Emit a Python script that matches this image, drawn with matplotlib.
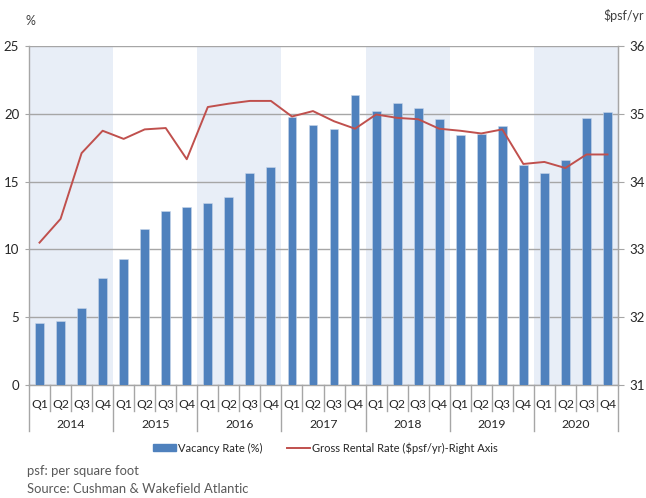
import matplotlib
matplotlib.use("Agg")
import matplotlib.pyplot as plt
import matplotlib.transforms as mtransforms
from matplotlib.patches import Patch
from matplotlib.lines import Line2D

plt.rcParams['font.family'] = ['Lato', 'DejaVu Sans']

years = ["2014", "2015", "2016", "2017", "2018", "2019", "2020"]
quarters = ["Q1", "Q2", "Q3", "Q4"]
vacancy = [4.6, 4.7, 5.7, 7.9,
           9.3, 11.5, 12.8, 13.1,
           13.4, 13.9, 15.6, 16.1,
           19.8, 19.2, 18.9, 21.4,
           20.2, 20.8, 20.4, 19.6,
           18.4, 18.5, 19.1, 16.2,
           15.6, 16.6, 19.7, 20.1]
rent = [33.10, 33.45, 34.42, 34.75,
        34.63, 34.77, 34.79, 34.33,
        35.10, 35.15, 35.19, 35.19,
        34.96, 35.04, 34.89, 34.78,
        34.99, 34.94, 34.92, 34.78,
        34.75, 34.71, 34.77, 34.26,
        34.29, 34.20, 34.40, 34.40]

bar_color = "#4F81BD"
line_color = "#C0504D"
band_color = "#E8EEF7"
grid_color = "#A6A6A6"
text_color = "#262626"

fig = plt.figure(figsize=(6.46, 4.98), dpi=100)
ax = fig.add_axes([29/646, 1-385/498, (618-29)/646, (385-46)/498])
n = len(vacancy)
x = list(range(n))

for i, y in enumerate(years):
    if i % 2 == 0:
        ax.axvspan(4*i - 0.5, 4*i + 3.5, color=band_color, lw=0, zorder=0)

ax.set_ylim(0, 25)
ax.set_xlim(-0.5, n - 0.5)
ax.set_yticks([0, 5, 10, 15, 20, 25])
ax.yaxis.grid(True, color=grid_color, lw=1.0, zorder=1)
ax.set_axisbelow(True)
ax.bar(x, vacancy, width=0.42, color=bar_color, zorder=3, edgecolor="#C9D7EA", linewidth=0.4)

ax.spines["top"].set_visible(False)
for s in ["left", "right", "bottom"]:
    ax.spines[s].set_color(grid_color)
    ax.spines[s].set_linewidth(1.0)

ax.set_xticks(x)
ax.set_xticklabels(quarters * len(years), fontsize=8.8, color=text_color)
ax.tick_params(axis="x", length=0, pad=10)
ax.tick_params(axis="y", length=3, color=grid_color, labelsize=9.5, labelcolor=text_color, pad=4)

ax2 = ax.twinx()
ax2.set_ylim(31, 36)
ax2.set_yticks([31, 32, 33, 34, 35, 36])
ax2.plot(x, rent, color=line_color, lw=1.4, zorder=5)
for s in ["top", "left", "bottom"]:
    ax2.spines[s].set_visible(False)
ax2.spines["right"].set_color(grid_color)
ax2.tick_params(axis="y", length=4, color=grid_color, labelsize=9.5, labelcolor=text_color, pad=4)

trans = mtransforms.blended_transform_factory(ax.transData, ax.transAxes)
q_h = 26/339
y_h = 46/339
for k in range(n + 1):
    xp = k - 0.5
    depth = y_h if k % 4 == 0 else q_h
    ax.plot([xp, xp], [0, -depth], transform=trans, color=grid_color, lw=1.0, clip_on=False)
for i, y in enumerate(years):
    ax.text(4*i + 1.5, -39/339, y, transform=trans, ha="center", va="center",
            fontsize=8.8, color=text_color)

fig.text(26/646, 1-21/498, "%", fontsize=9, color="#404040", ha="left", va="center")
fig.text(646/646 - 0.003, 1-15/498, "$psf/yr", fontsize=9, color="#404040", ha="right", va="center")

handles = [Patch(facecolor=bar_color, edgecolor=bar_color),
           Line2D([0], [0], color=line_color, lw=1.4)]
labels = ["Vacancy Rate (%)", "Gross Rental Rate ($psf/yr)-Right Axis"]
fig.legend(handles, labels, loc="center", bbox_to_anchor=(325.5/646, 1-448/498), ncol=2,
           frameon=False, fontsize=8, handlelength=2.07, handleheight=0.55,
           handletextpad=0.18, columnspacing=2.25, labelcolor=text_color,
           borderpad=0, borderaxespad=0)

fig.text(27/646, 1-470.5/498, "psf: per square foot", fontsize=9.4, color="#595959", va="center")
fig.text(27/646, 1-488.5/498, "Source: Cushman & Wakefield Atlantic", fontsize=9.4, color="#595959", va="center")

fig.savefig("out.png", dpi=100)
